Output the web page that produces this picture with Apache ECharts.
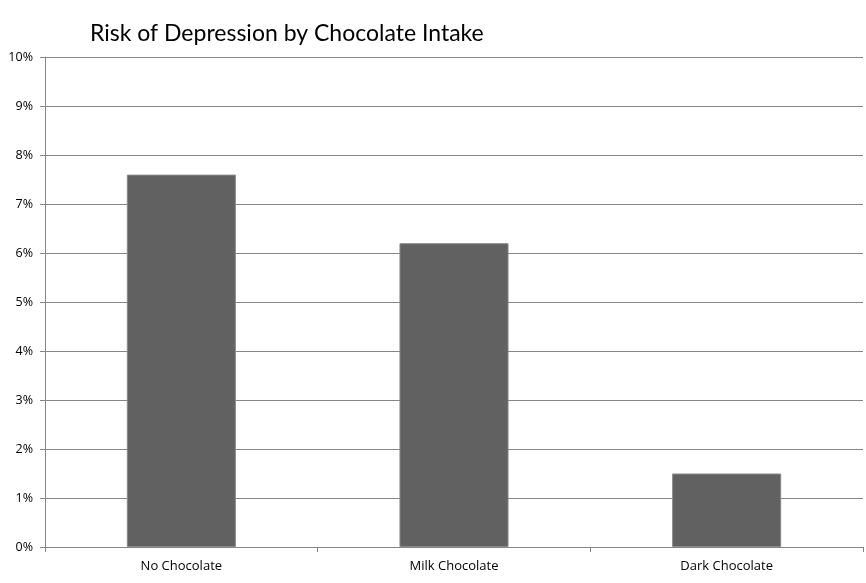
<!DOCTYPE html>
<html><head><meta charset="utf-8">
<script src="https://cdn.jsdelivr.net/npm/echarts@6/dist/echarts.min.js"></script>
<style>html,body{margin:0;padding:0;background:#fff}#c{width:866px;height:583px}</style>
</head><body><div id="c"></div>
<script>
const categories = ["No Chocolate", "Milk Chocolate", "Dark Chocolate"];
const values = [7.6, 6.2, 1.5];
const chart = echarts.init(document.getElementById('c'));
chart.setOption({
  animation: false,
  title: { text: "Risk of Depression by Chocolate Intake", left: 85, top: 17,
    textStyle: { fontFamily: "Lato", fontWeight: "normal", fontSize: 23, color: "#000" } },
  grid: { left: 45, right: 3, top: 57, bottom: 36, containLabel: false },
  xAxis: { type: "category", data: categories,
    axisLine: { lineStyle: { color: "#868686", width: 1 } },
    axisTick: { show: true, length: 5, alignWithLabel: false, lineStyle: { color: "#868686" } },
    axisLabel: { color: "#000", fontFamily: "Open Sans", fontSize: 13, margin: 13 } },
  yAxis: { type: "value", min: 0, max: 10, interval: 1,
    axisLine: { show: true, lineStyle: { color: "#868686" } },
    axisTick: { show: true, length: 5, lineStyle: { color: "#868686" } },
    splitLine: { lineStyle: { color: "#868686", width: 1 } },
    axisLabel: { formatter: "{value}%", color: "#000", fontFamily: "Open Sans", fontSize: 12.5, margin: 12 } },
  series: [{ type: "bar", data: values, barWidth: "40%",
    itemStyle: { color: "#616161", borderColor: "#8a8a8a", borderWidth: 1 } }]
});
</script></body></html>
